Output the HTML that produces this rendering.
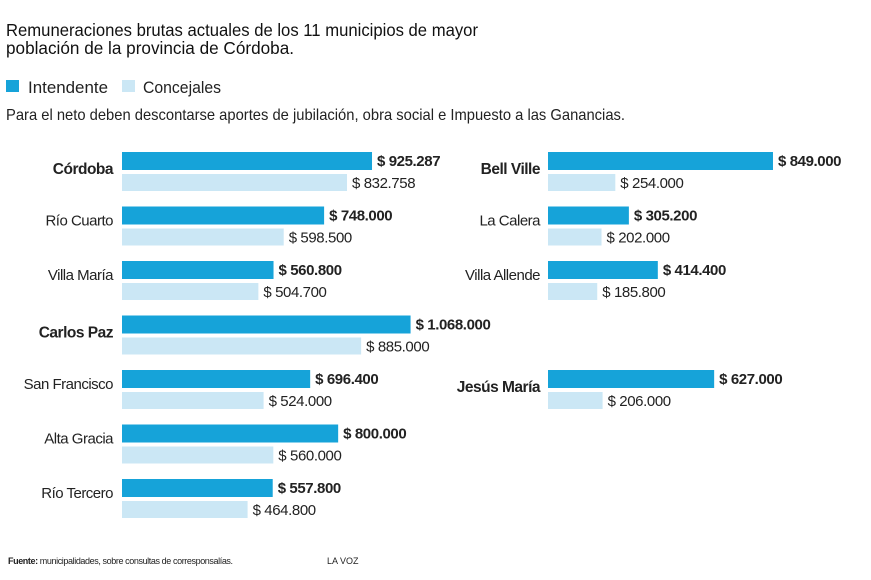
<!DOCTYPE html>
<html><head><meta charset="utf-8"><style>
body{margin:0;background:#fff;}
svg{display:block;font-family:"Liberation Sans",sans-serif;}
</style></head><body>
<svg id="c" width="871" height="580" viewBox="0 0 871 580">
<text x="6" y="36" font-size="17.5" fill="#111" textLength="472" lengthAdjust="spacingAndGlyphs">Remuneraciones brutas actuales de los 11 municipios de mayor</text>
<text x="6" y="54" font-size="17.5" fill="#111" textLength="288" lengthAdjust="spacingAndGlyphs">población de la provincia de Córdoba.</text>
<rect x="6" y="80" width="13" height="12" fill="#16a3d9"/>
<text x="28" y="93" font-size="16.5" fill="#222" textLength="80" lengthAdjust="spacingAndGlyphs">Intendente</text>
<rect x="122" y="80" width="13" height="12" fill="#cbe7f5"/>
<text x="143" y="93" font-size="16.5" fill="#222" textLength="78" lengthAdjust="spacingAndGlyphs">Concejales</text>
<text x="6" y="120" font-size="16" fill="#222" textLength="619" lengthAdjust="spacingAndGlyphs">Para el neto deben descontarse aportes de jubilación, obra social e Impuesto a las Ganancias.</text>
<text x="8" y="564" font-size="9" fill="#222" letter-spacing="-0.4"><tspan font-weight="bold">Fuente:</tspan> municipalidades, sobre consultas de corresponsalías.</text>
<text x="327" y="564" font-size="9" fill="#222">LA VOZ</text>
<g id="bars"></g>
</svg>
<script>
const leftNames=["Córdoba","Río Cuarto","Villa María","Carlos Paz","San Francisco","Alta Gracia","Río Tercero"];
const leftBold=[true,false,false,true,false,false,false];
const leftIntendente=[925287,748000,560800,1068000,696400,800000,557800];
const leftConcejales=[832758,598500,504700,885000,524000,560000,464800];
const rightNames=["Bell Ville","La Calera","Villa Allende","Jesús María"];
const rightBold=[true,false,false,true];
const rightIntendente=[849000,305200,414400,627000];
const rightConcejales=[254000,202000,185800,206000];
const rightSlots=[0,1,2,4];

const NS="http://www.w3.org/2000/svg";
const g=document.getElementById('bars');
function fmt(v){return "$ "+String(v).replace(/\B(?=(\d{3})+(?!\d))/g,".");}
function mk(tag,attrs){const e=document.createElementNS(NS,tag);for(const k in attrs)e.setAttribute(k,attrs[k]);g.appendChild(e);return e;}
function panel(names,bold,iv,cv,slots,x0,labelX,scale,top,step,side){
  names.forEach((n,i)=>{
    const s=slots?slots[i]:i;
    const y=top+s*step;
    const wi=iv[i]*scale, wc=cv[i]*scale;
    const lab=mk('text',{x:labelX,y:y+(bold[i]?22:19),'text-anchor':'end','font-size':bold[i]?15.5:15,'font-weight':bold[i]?'bold':'normal',fill:'#222','letter-spacing':'-0.5'});
    lab.textContent=n;
    
    
    const b1=mk('rect',{x:x0,y:y,width:wi,height:18,fill:'#16a3d9'});
    
    
    const t1=mk('text',{x:x0+wi+5,y:y+14,'font-size':15,'font-weight':'bold',fill:'#222','letter-spacing':'-0.4'});
    t1.textContent=fmt(iv[i]);
    
    
    const b2=mk('rect',{x:x0,y:y+22,width:wc,height:17,fill:'#cbe7f5'});
    
    
    const t2=mk('text',{x:x0+wc+5,y:y+36,'font-size':15,fill:'#222','letter-spacing':'-0.4'});
    t2.textContent=fmt(cv[i]);
    
    
  });
}
panel(leftNames,leftBold,leftIntendente,leftConcejales,null,122,113,0.0002702,152,54.5,'left');
panel(rightNames,rightBold,rightIntendente,rightConcejales,rightSlots,548,540,0.000265,152,54.5,'right');
</script>
</body></html>
